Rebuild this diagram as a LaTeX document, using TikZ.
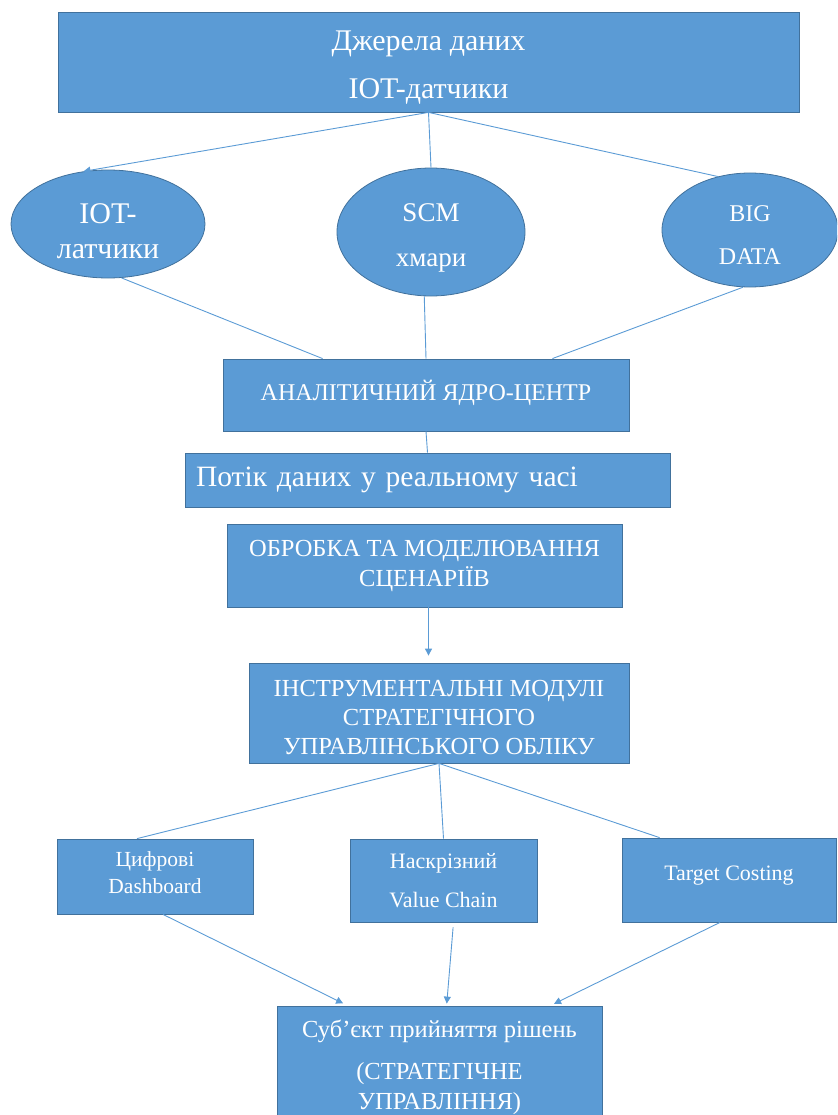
\documentclass[tikz,border=0pt]{standalone}
\usepackage{fontspec}
\setmainfont{Liberation Serif}
\usetikzlibrary{shapes.geometric,arrows.meta}

\definecolor{boxfill}{HTML}{5B9BD5}
\definecolor{boxline}{HTML}{41719C}
\definecolor{wirecol}{HTML}{5B9BD5}

% struts that nudge a text block down or up inside its box
\newcommand{\txtdrop}[1]{\rule{0pt}{#1}}
\newcommand{\txtlift}[1]{\rule[-#1]{0pt}{0pt}}

\begin{document}
\begin{tikzpicture}[x=1pt,y=-1pt,
    block/.style={draw=boxline, line width=0.8pt, fill=boxfill, text=white, align=center, inner sep=0pt},
    blob/.style={ellipse, draw=boxline, line width=0.8pt, fill=boxfill, text=white, align=center, inner sep=0pt},
    wire/.style={draw=wirecol, line width=0.9pt},
    flowarrow/.style={wire, -{Triangle[length=7pt,width=7pt]}}]

    \useasboundingbox (0,0) rectangle (837,1115);
    \clip (0,0) rectangle (837,1115);

    % Data sources
    \node[block, minimum width=741pt, minimum height=100pt, font=\fontsize{30}{48}\selectfont] (src) at (428.5,62) {\txtdrop{31pt}Джерела даних\\IOT-датчики};

    % Three kinds of sources
    \node[blob, minimum width=194pt, minimum height=108pt, font=\fontsize{30}{35}\selectfont] (iot) at (108,224) {\txtdrop{34.5pt}IOT-\\латчики};
    \node[blob, minimum width=188pt, minimum height=128pt, font=\fontsize{27}{45}\selectfont] (scm) at (431,232) {\txtdrop{30.5pt}SCM\\хмари};
    \node[blob, minimum width=176pt, minimum height=114pt, font=\fontsize{24}{43}\selectfont] (big) at (750,230) {\txtdrop{26pt}BIG\\DATA};

    % Analytical core and the data flow
    \node[block, minimum width=406pt, minimum height=72pt, font=\fontsize{24}{28}\selectfont] (core) at (426,395) {АНАЛІТИЧНИЙ ЯДРО-ЦЕНТР\txtlift{10pt}};
    \node[block, minimum width=485pt, minimum height=54pt, text width=463pt, align=left, font=\fontsize{29.5}{34}\selectfont] (flow) at (427.5,480) {Потік даних у реальному часі};
    \node[block, minimum width=395pt, minimum height=83pt, font=\fontsize{24.5}{30}\selectfont] (proc) at (424.5,565.5) {ОБРОБКА ТА МОДЕЛЮВАННЯ\\СЦЕНАРІЇВ};
    \node[block, minimum width=380pt, minimum height=100pt, font=\fontsize{24.5}{29}\selectfont] (instr) at (439,713) {\txtdrop{24.5pt}ІНСТРУМЕНТАЛЬНІ МОДУЛІ\\СТРАТЕГІЧНОГО\\УПРАВЛІНСЬКОГО ОБЛІКУ};

    % Tools
    \node[block, minimum width=196pt, minimum height=75pt, font=\fontsize{21.5}{27}\selectfont] (dash) at (155,876.5) {Цифрові\\Dashboard\txtlift{8pt}};
    \node[block, minimum width=187pt, minimum height=83pt, font=\fontsize{22}{39}\selectfont] (chain) at (443.5,880.5) {Наскрізний\\Value Chain};
    \node[block, minimum width=214pt, minimum height=84pt, font=\fontsize{22}{26}\selectfont] (cost) at (729,880) {Target Costing\txtlift{13pt}};

    % Decision maker
    \node[block, minimum width=325pt, minimum height=130pt, font=\fontsize{24.5}{30}\selectfont] (dm) at (439.5,1071) {Суб’єкт прийняття рішень\\[12pt](СТРАТЕГІЧНЕ\\УПРАВЛІННЯ)\txtlift{12.5pt}};

    % Sources to the three kinds
    \draw[flowarrow] (src.south) -- (iot.115);
    \draw[wire] (src.south) -- (scm.north);
    \draw[wire] (src.south) -- (big.121);

    % Kinds to the core
    \draw[wire] (iot.284) -- ([xshift=100pt]core.north west);
    \draw[wire] (scm.264) -- (core.north);
    \draw[wire] (big.263) -- ([xshift=-77pt]core.north east);
    \draw[wire] (core.south) -- (flow.north);

    % Processing to the modules
    \coordinate (procout) at ([xshift=4pt]proc.south);
    \draw[flowarrow, shorten >=7pt] (procout) -- (procout |- instr.north);

    % Modules to the tools
    \draw[wire] (instr.south) -- ([xshift=-18pt]dash.north);
    \draw[wire] (instr.south) -- (chain.north);
    \draw[wire] (instr.south) -- ([xshift=38pt]cost.north west);

    % Tools to the decision maker
    \draw[flowarrow, shorten >=5pt] ([xshift=8pt]dash.south) -- ([xshift=71pt]dm.north west);
    \draw[flowarrow, shorten <=5pt, shorten >=2pt] ([xshift=10pt]chain.south) -- ([xshift=170pt]dm.north west);
    \draw[flowarrow, shorten >=4pt] ([xshift=-9pt]cost.south) -- ([xshift=-52pt]dm.north east);

\end{tikzpicture}
\end{document}
